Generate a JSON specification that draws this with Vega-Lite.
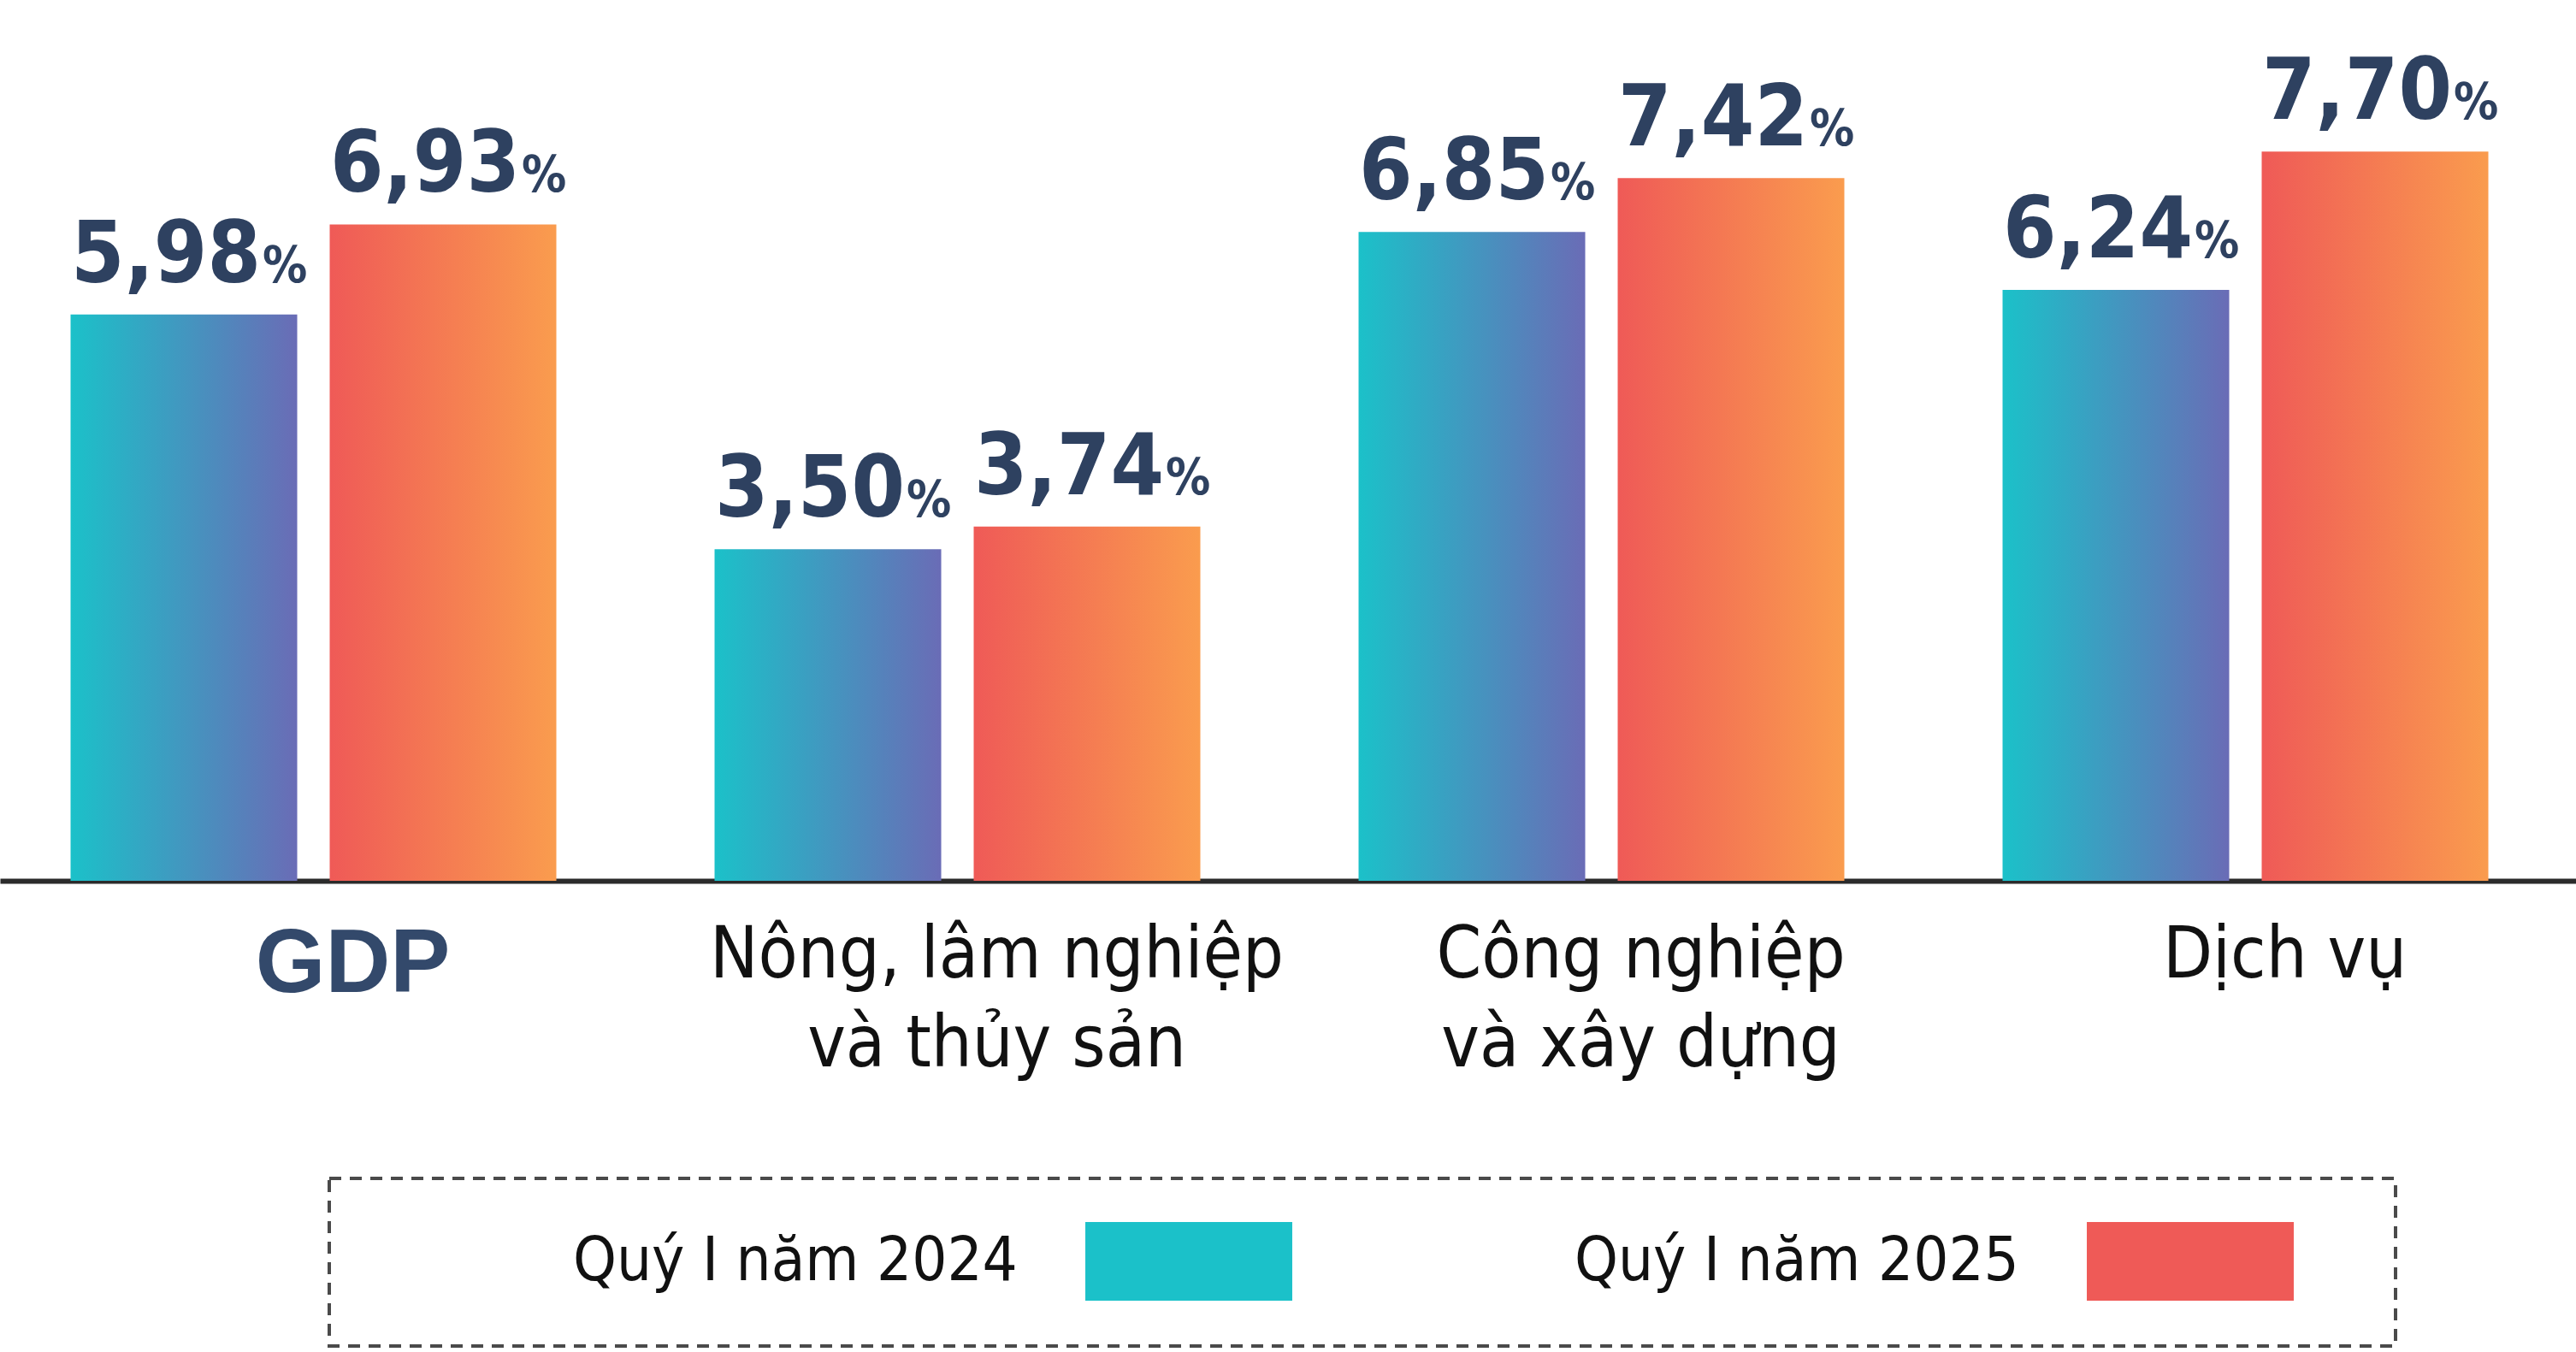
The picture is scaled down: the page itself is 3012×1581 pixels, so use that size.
{
  "$schema": "https://vega.github.io/schema/vega-lite/v6.json",
  "autosize": "none",
  "padding": {"left": 0, "top": 0, "right": 0, "bottom": 551},
  "width": 3012,
  "height": 1030,
  "background": "white",
  "config": {"view": {"stroke": null}, "legend": {"strokeColor": "#4a4a4a", "strokeDash": [14, 10], "strokeWidth": 4, "padding": 50}},
  "data": {"values": [
    {"cat": "GDP", "series": "Quý I năm 2024", "value": 5.98, "label": "5,98"},
    {"cat": "GDP", "series": "Quý I năm 2025", "value": 6.93, "label": "6,93"},
    {"cat": "Nông, lâm nghiệp|và thủy sản", "series": "Quý I năm 2024", "value": 3.50, "label": "3,50"},
    {"cat": "Nông, lâm nghiệp|và thủy sản", "series": "Quý I năm 2025", "value": 3.74, "label": "3,74"},
    {"cat": "Công nghiệp|và xây dựng", "series": "Quý I năm 2024", "value": 6.85, "label": "6,85"},
    {"cat": "Công nghiệp|và xây dựng", "series": "Quý I năm 2025", "value": 7.42, "label": "7,42"},
    {"cat": "Dịch vụ", "series": "Quý I năm 2024", "value": 6.24, "label": "6,24"},
    {"cat": "Dịch vụ", "series": "Quý I năm 2025", "value": 7.70, "label": "7,70"}
  ]},
  "encoding": {
    "x": {"field": "cat", "type": "nominal", "sort": null,
      "scale": {"paddingInner": 0.2457, "paddingOuter": 0.12285, "align": 0.446},
      "axis": {"title": null, "domainColor": "#2b2b2b", "domainWidth": 6, "ticks": false, "labelAngle": 0,
        "labelPadding": 46, "labelBaseline": "top", "labelLineHeight": 104, "labelLimit": 2000,
        "labelOverlap": false, "labelFlush": false, "labelOffset": 46,
        "labelExpr": "split(datum.label, '|')",
        "labelFont": {"condition": {"test": "datum.value === 'GDP'", "value": "Liberation Sans"}, "value": "DejaVu Sans Condensed, sans-serif"},
        "labelFontSize": {"condition": {"test": "datum.value === 'GDP'", "value": 105}, "value": 84},
        "labelFontWeight": {"condition": {"test": "datum.value === 'GDP'", "value": "bold"}, "value": "normal"},
        "labelColor": {"condition": {"test": "datum.value === 'GDP'", "value": "#33496b"}, "value": "#111111"}
      }},
    "xOffset": {"field": "series", "type": "nominal", "scale": {"paddingInner": 0.1254, "paddingOuter": 0}},
    "y": {"field": "value", "type": "quantitative", "scale": {"domain": [0, 9.3], "nice": false, "zero": true}, "axis": null}
  },
  "layer": [
    {
      "transform": [{"filter": "datum.series === 'Quý I năm 2024'"}],
      "mark": {"type": "bar", "fill": {"gradient": "linear", "x1": 0, "y1": 0, "x2": 1, "y2": 0, "stops": [{"offset": 0, "color": "#1bc1c9"}, {"offset": 1, "color": "#6a6cb6"}]}}
    },
    {
      "transform": [{"filter": "datum.series === 'Quý I năm 2025'"}],
      "mark": {"type": "bar", "fill": {"gradient": "linear", "x1": 0, "y1": 0, "x2": 1, "y2": 0, "stops": [{"offset": 0, "color": "#ef5a57"}, {"offset": 1, "color": "#fa9c4e"}]}}
    },
    {
      "mark": {"type": "point", "filled": true, "size": 0, "opacity": 0},
      "encoding": {
        "color": {"field": "series", "type": "nominal", "scale": {"range": ["#1bc1c9", "#ef5a57"]},
          "legend": {
            "title": null, "orient": "none", "legendX": 385, "legendY": 1378, "direction": "horizontal",
            "labelFont": "DejaVu Sans Condensed, sans-serif", "labelFontSize": 72, "labelColor": "#111111",
            "labelAlign": "left", "labelOffset": -767, "labelLimit": 2000, "columnPadding": 26,
            "symbolType": "M-2.63,-1H2.63V1H-2.63ZM4.06,0", "symbolSize": 8464, "symbolOpacity": 1, "symbolOffset": 908,
            "encode": {"symbols": {"update": {
              "fill": [
                {"test": "datum.value === 'Quý I năm 2024'", "value": {"gradient": "linear", "x1": 0, "y1": 0, "x2": 1, "y2": 0, "stops": [{"offset": 0, "color": "#1bc1c9"}, {"offset": 1, "color": "#6a6cb6"}]}},
                {"value": {"gradient": "linear", "x1": 0, "y1": 0, "x2": 1, "y2": 0, "stops": [{"offset": 0, "color": "#ef5a57"}, {"offset": 1, "color": "#fa9c4e"}]}}
              ]
            }}}
          }}
      }
    },
    {
      "mark": {"type": "text", "align": "right", "baseline": "alphabetic", "dx": 90, "dy": -38, "font": "DejaVu Sans Condensed, sans-serif", "fontWeight": "bold", "fontSize": 100, "color": "#2e4160"},
      "encoding": {"text": {"field": "label"}}
    },
    {
      "mark": {"type": "text", "align": "left", "baseline": "alphabetic", "dx": 92, "dy": -38, "text": "%", "font": "DejaVu Sans Condensed, sans-serif", "fontWeight": "bold", "fontSize": 58, "color": "#2e4160"},
      "encoding": {}
    }
  ]
}
